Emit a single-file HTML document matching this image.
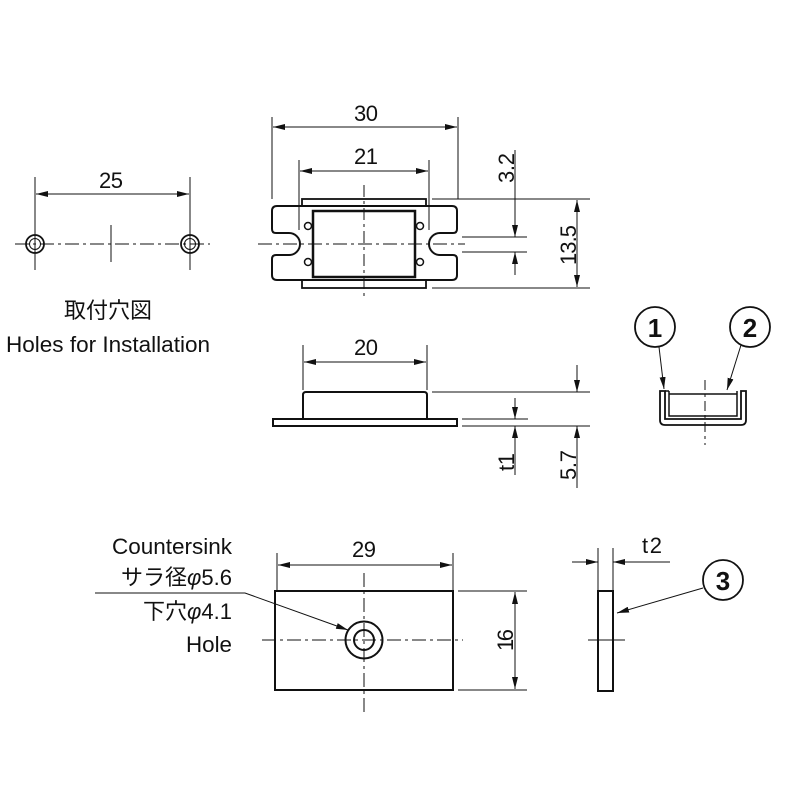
<!DOCTYPE html>
<html><head><meta charset="utf-8"><style>
html,body{margin:0;padding:0;background:#fff}
text{font-family:"Liberation Sans","Noto Sans CJK JP",sans-serif;fill:#111}
</style></head><body>
<svg width="800" height="800" viewBox="0 0 800 800" xmlns="http://www.w3.org/2000/svg">
<defs>
<marker id="a" viewBox="0 0 12 6" refX="12" refY="3" markerWidth="12" markerHeight="6" markerUnits="userSpaceOnUse" orient="auto-start-reverse"><path d="M0,0L12,3L0,6z" fill="#111"/></marker>
</defs>
<g stroke="#111" fill="none" stroke-width="1">
<line x1="35" y1="177" x2="35" y2="270"/><line x1="190" y1="177" x2="190" y2="270"/>
<line x1="36" y1="194" x2="189" y2="194" marker-start="url(#a)" marker-end="url(#a)"/>
<line x1="15" y1="244" x2="210" y2="244" stroke-dasharray="14,4,3,4"/>
<line x1="111" y1="225" x2="111" y2="262"/>
<circle cx="35" cy="244" r="9" stroke-width="1.8"/><circle cx="35" cy="244" r="5.5"/>
<circle cx="190" cy="244" r="9" stroke-width="1.8"/><circle cx="190" cy="244" r="5.5"/>

<line x1="272" y1="117" x2="272" y2="199"/><line x1="458" y1="117" x2="458" y2="199"/>
<line x1="273" y1="127" x2="457" y2="127" marker-start="url(#a)" marker-end="url(#a)"/>
<line x1="299" y1="160" x2="299" y2="230"/><line x1="429" y1="160" x2="429" y2="230"/>
<line x1="300" y1="171" x2="428" y2="171" marker-start="url(#a)" marker-end="url(#a)"/>
<path stroke-width="2" d="M277,206 H452 Q457,206 457,211 V229 Q457,233 453,233 H440 A11,11 0 0 0 440,255 H453 Q457,255 457,259 V275 Q457,280 452,280 H277 Q272,280 272,275 V259 Q272,255 276,255 H289 A11,11 0 0 0 289,233 H276 Q272,233 272,229 V211 Q272,206 277,206 Z"/>
<rect x="302" y="199" width="124" height="7" stroke-width="1.8"/>
<rect x="302" y="280" width="124" height="8" stroke-width="1.8"/>
<rect x="313" y="211" width="102" height="66" stroke-width="2.5"/>
<circle cx="308" cy="226" r="3.5" stroke-width="1.5"/><circle cx="308" cy="262" r="3.5" stroke-width="1.5"/>
<circle cx="420" cy="226" r="3.5" stroke-width="1.5"/><circle cx="420" cy="262" r="3.5" stroke-width="1.5"/>
<line x1="364" y1="185" x2="364" y2="300" stroke-dasharray="12,4,3,4"/>
<line x1="258" y1="244" x2="465" y2="244" stroke-dasharray="14,4,3,4"/>
<line x1="432" y1="199" x2="590" y2="199"/><line x1="432" y1="288" x2="590" y2="288"/>
<line x1="462" y1="237" x2="527" y2="237"/><line x1="462" y1="252" x2="527" y2="252"/>
<line x1="515" y1="150" x2="515" y2="237" marker-end="url(#a)"/>
<line x1="515" y1="275" x2="515" y2="252" marker-end="url(#a)"/>
<line x1="577" y1="200" x2="577" y2="287" marker-start="url(#a)" marker-end="url(#a)"/>

<line x1="303" y1="345" x2="303" y2="390"/><line x1="427" y1="345" x2="427" y2="390"/>
<line x1="304" y1="362" x2="426" y2="362" marker-start="url(#a)" marker-end="url(#a)"/>
<rect x="273" y="419" width="184" height="7" stroke-width="2"/>
<path stroke-width="2" d="M303,419 V395 Q303,392 306,392 H424 Q427,392 427,395 V419"/>
<line x1="432" y1="392" x2="590" y2="392"/>
<line x1="462" y1="419" x2="528" y2="419"/><line x1="462" y1="426" x2="590" y2="426"/>
<line x1="515" y1="398" x2="515" y2="419" marker-end="url(#a)"/>
<line x1="515" y1="475" x2="515" y2="426" marker-end="url(#a)"/>
<line x1="577" y1="365" x2="577" y2="392" marker-end="url(#a)"/>
<line x1="577" y1="488" x2="577" y2="426" marker-end="url(#a)"/>

<path stroke-width="1.8" d="M660,391 V420 Q660,425 665,425 H741 Q746,425 746,420 V391 H741 V419 H665 V391 Z"/>
<path stroke-width="1.5" d="M669,391 V416 H737 V391 M665,391 H669 M669,394 H737"/>
<line x1="705" y1="380" x2="705" y2="445" stroke-dasharray="10,4,3,4"/>
<circle cx="655" cy="327" r="20" stroke-width="1.8"/><circle cx="750" cy="327" r="20" stroke-width="1.8"/>
<line x1="659" y1="347" x2="664" y2="389" marker-end="url(#a)"/>
<line x1="741" y1="345" x2="727" y2="390" marker-end="url(#a)"/>

<line x1="277" y1="553" x2="277" y2="590"/><line x1="453" y1="553" x2="453" y2="590"/>
<line x1="278" y1="565" x2="452" y2="565" marker-start="url(#a)" marker-end="url(#a)"/>
<rect x="275" y="591" width="178" height="99" stroke-width="2"/>
<line x1="364" y1="573" x2="364" y2="712" stroke-dasharray="14,4,3,4"/>
<line x1="262" y1="640" x2="463" y2="640" stroke-dasharray="14,4,3,4"/>
<circle cx="364" cy="640" r="18.5" stroke-width="2"/><circle cx="364" cy="640" r="10" stroke-width="2"/>
<line x1="458" y1="591" x2="527" y2="591"/><line x1="458" y1="690" x2="527" y2="690"/>
<line x1="515" y1="592" x2="515" y2="689" marker-start="url(#a)" marker-end="url(#a)"/>
<polyline points="95,593 245,593 348,630" marker-end="url(#a)"/>

<rect x="598" y="591" width="15" height="100" stroke-width="2"/>
<line x1="598" y1="548" x2="598" y2="590"/><line x1="613" y1="548" x2="613" y2="590"/>
<line x1="572" y1="562" x2="598" y2="562" marker-end="url(#a)"/>
<line x1="670" y1="562" x2="613" y2="562" marker-end="url(#a)"/>
<line x1="588" y1="640" x2="625" y2="640"/>
<circle cx="723" cy="580" r="20" stroke-width="1.8"/>
<line x1="703" y1="588" x2="617" y2="613" marker-end="url(#a)"/>
</g>
<g font-size="22">
<text x="111" y="188" text-anchor="middle" textLength="24">25</text>
<text x="366" y="121" text-anchor="middle" textLength="24">30</text>
<text x="366" y="164" text-anchor="middle" textLength="24">21</text>
<text transform="translate(514,168) rotate(-90)" text-anchor="middle" textLength="30">3.2</text>
<text transform="translate(576,245) rotate(-90)" text-anchor="middle" textLength="40">13.5</text>
<text x="366" y="355" text-anchor="middle" textLength="24">20</text>
<text transform="translate(514,462) rotate(-90)" text-anchor="middle" textLength="18">t1</text>
<text transform="translate(576,465) rotate(-90)" text-anchor="middle" textLength="30">5.7</text>
<text x="108" y="318" text-anchor="middle">取付穴図</text>
<text x="108" y="352" text-anchor="middle" textLength="204" lengthAdjust="spacingAndGlyphs">Holes for Installation</text>
<text x="364" y="557" text-anchor="middle" textLength="24">29</text>
<text transform="translate(513,640) rotate(-90)" text-anchor="middle" textLength="22">16</text>
<text x="232" y="554" text-anchor="end" textLength="120" lengthAdjust="spacingAndGlyphs">Countersink</text>
<text x="232" y="585" text-anchor="end">サラ径<tspan font-style="italic">φ</tspan>5.6</text>
<text x="232" y="619" text-anchor="end">下穴<tspan font-style="italic">φ</tspan>4.1</text>
<text x="232" y="652" text-anchor="end" textLength="46" lengthAdjust="spacingAndGlyphs">Hole</text>
<text x="652" y="553" text-anchor="middle" textLength="20">t2</text>
<text x="655" y="337" text-anchor="middle" font-size="26" font-weight="bold">1</text>
<text x="750" y="337" text-anchor="middle" font-size="26" font-weight="bold">2</text>
<text x="723" y="590" text-anchor="middle" font-size="26" font-weight="bold">3</text>
</g>
</svg>
</body></html>
